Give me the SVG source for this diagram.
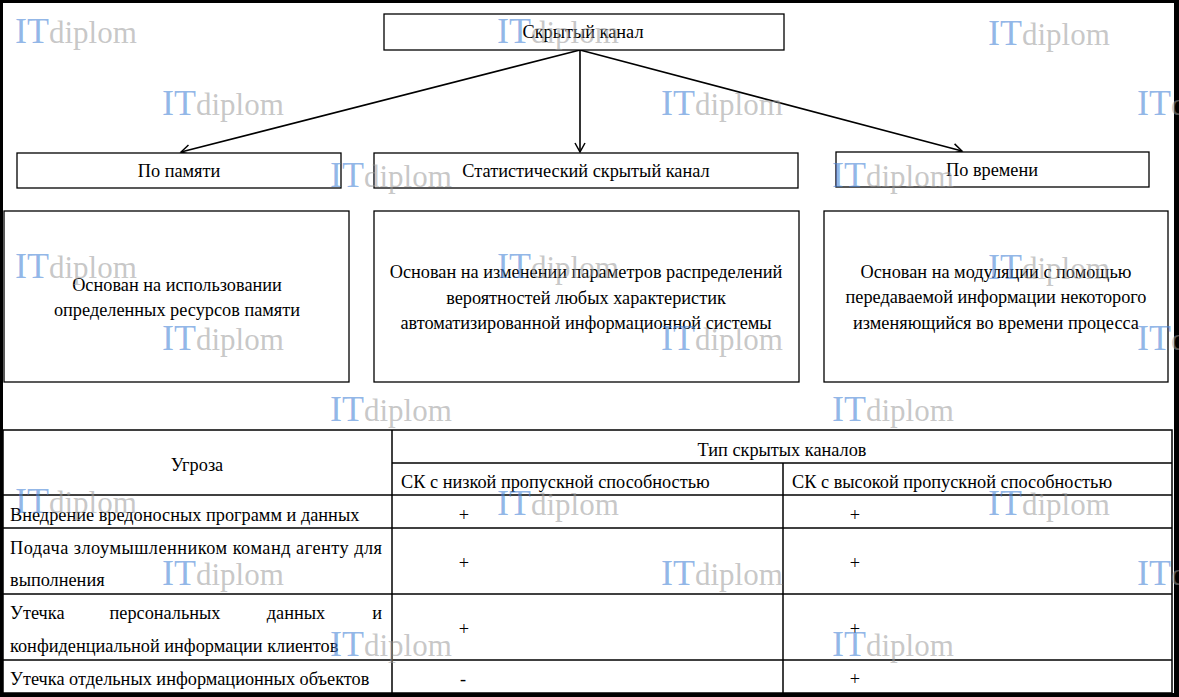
<svg xmlns="http://www.w3.org/2000/svg" width="1179" height="697" viewBox="0 0 1179 697">
<style>
.box{fill:#fff;stroke:#000;stroke-width:1.3}
.t{font-family:"Liberation Serif","Times New Roman",serif;font-size:18.3px;fill:#000}
.c{text-anchor:middle}
.e{text-anchor:end}
.ln{stroke:#000;stroke-width:1.6;fill:none}
.tl{stroke:#000;stroke-width:1.5;fill:none}
.wm{font-family:"Liberation Serif","Times New Roman",serif}
.wi{font-size:36px;fill:#4a86d8;fill-opacity:0.6}
.wd{font-size:31px;fill:#999;fill-opacity:0.55}
</style>
<defs>
<marker id="arr" markerWidth="12" markerHeight="12" refX="10" refY="6" orient="auto" markerUnits="userSpaceOnUse">
<path d="M1,1 L10,6 L1,11" fill="none" stroke="#000" stroke-width="1.5"/>
</marker>
</defs>
<rect width="1179" height="697" fill="#fff"/>

<g id="connectors">
<line class="ln" x1="580" y1="50" x2="181" y2="152" marker-end="url(#arr)"/>
<line class="ln" x1="580" y1="50" x2="580" y2="152" marker-end="url(#arr)"/>
<line class="ln" x1="580" y1="50" x2="962" y2="151" marker-end="url(#arr)"/>
</g>

<g id="n-root">
<rect class="box" x="384" y="14" width="400" height="36"/>
<text class="t c" x="583" y="38">Скрытый канал</text>
</g>
<g id="n-mem">
<rect class="box" x="17" y="153" width="324" height="35"/>
<text class="t c" x="179" y="177">По памяти</text>
</g>
<g id="n-stat">
<rect class="box" x="374" y="153" width="424" height="35"/>
<text class="t c" x="586" y="177">Статистический скрытый канал</text>
</g>
<g id="n-time">
<rect class="box" x="836" y="152" width="313" height="35"/>
<text class="t c" x="992" y="176">По времени</text>
</g>
<g id="d-mem">
<rect class="box" x="4" y="211" width="345" height="171"/>
<text class="t c" x="177" y="291">Основан на использовании</text>
<text class="t c" x="177" y="316">определенных ресурсов памяти</text>
</g>
<g id="d-stat">
<rect class="box" x="374" y="211" width="425" height="171"/>
<text class="t c" x="586" y="278">Основан на изменении параметров распределений</text>
<text class="t c" x="586" y="304">вероятностей любых характеристик</text>
<text class="t c" x="586" y="329">автоматизированной информационной системы</text>
</g>
<g id="d-time">
<rect class="box" x="824" y="211" width="344" height="171"/>
<text class="t c" x="996" y="278">Основан на модуляции с помощью</text>
<text class="t c" x="996" y="303">передаваемой информации некоторого</text>
<text class="t c" x="996" y="329">изменяющийся во времени процесса</text>
</g>

<g id="table">
<rect class="tl" x="3" y="430" width="1169" height="263"/>
<line class="tl" x1="392" y1="430" x2="392" y2="693"/>
<line class="tl" x1="392" y1="463" x2="1172" y2="463"/>
<line class="tl" x1="783" y1="463" x2="783" y2="693"/>
<line class="tl" x1="3" y1="495" x2="1172" y2="495"/>
<line class="tl" x1="3" y1="528" x2="1172" y2="528"/>
<line class="tl" x1="3" y1="594" x2="1172" y2="594"/>
<line class="tl" x1="3" y1="660" x2="1172" y2="660"/>
<text class="t c" x="197" y="471">Угроза</text>
<text class="t c" x="782" y="456">Тип скрытых каналов</text>
<text class="t" x="401" y="488">СК с низкой пропускной способностью</text>
<text class="t" x="792" y="488">СК с высокой пропускной способностью</text>
<text class="t" x="10" y="521">Внедрение вредоносных программ и данных</text>
<text class="t" x="10" y="554" textLength="372" lengthAdjust="spacing">Подача злоумышленником команд агенту для</text>
<text class="t" x="10" y="586">выполнения</text>
<text class="t" y="619"><tspan x="10">Утечка</tspan></text>
<text class="t c" x="165" y="619">персональных</text>
<text class="t c" x="296" y="619">данных</text>
<text class="t e" x="382" y="619">и</text>
<text class="t" x="10" y="652">конфиденциальной информации клиентов</text>
<text class="t" x="10" y="685">Утечка отдельных информационных объектов</text>
<text class="t c" x="464" y="521">+</text>
<text class="t c" x="464" y="569">+</text>
<text class="t c" x="464" y="635">+</text>
<text class="t c" x="463" y="685">-</text>
<text class="t c" x="855" y="521">+</text>
<text class="t c" x="855" y="569">+</text>
<text class="t c" x="855" y="635">+</text>
<text class="t c" x="855" y="685">+</text>
</g>

<g id="frame" fill="#000">
<rect x="0" y="0" width="1179" height="3"/>
<rect x="0" y="0" width="3" height="697"/>
<rect x="1174" y="0" width="5" height="697"/>
<rect x="0" y="693" width="1179" height="4"/>
</g>

<g id="watermarks" class="wm">
<text x="15" y="43"><tspan class="wi">IT</tspan><tspan class="wd">diplom</tspan></text>
<text x="497" y="43"><tspan class="wi">IT</tspan><tspan class="wd">diplom</tspan></text>
<text x="988" y="45"><tspan class="wi">IT</tspan><tspan class="wd">diplom</tspan></text>
<text x="162" y="115"><tspan class="wi">IT</tspan><tspan class="wd">diplom</tspan></text>
<text x="661" y="115"><tspan class="wi">IT</tspan><tspan class="wd">diplom</tspan></text>
<text x="1137" y="115"><tspan class="wi">IT</tspan><tspan class="wd">diplom</tspan></text>
<text x="330" y="187"><tspan class="wi">IT</tspan><tspan class="wd">diplom</tspan></text>
<text x="832" y="187"><tspan class="wi">IT</tspan><tspan class="wd">diplom</tspan></text>
<text x="15" y="278"><tspan class="wi">IT</tspan><tspan class="wd">diplom</tspan></text>
<text x="497" y="278"><tspan class="wi">IT</tspan><tspan class="wd">diplom</tspan></text>
<text x="988" y="279"><tspan class="wi">IT</tspan><tspan class="wd">diplom</tspan></text>
<text x="162" y="350"><tspan class="wi">IT</tspan><tspan class="wd">diplom</tspan></text>
<text x="661" y="350"><tspan class="wi">IT</tspan><tspan class="wd">diplom</tspan></text>
<text x="1137" y="350"><tspan class="wi">IT</tspan><tspan class="wd">diplom</tspan></text>
<text x="330" y="421"><tspan class="wi">IT</tspan><tspan class="wd">diplom</tspan></text>
<text x="832" y="421"><tspan class="wi">IT</tspan><tspan class="wd">diplom</tspan></text>
<text x="15" y="513"><tspan class="wi">IT</tspan><tspan class="wd">diplom</tspan></text>
<text x="497" y="515"><tspan class="wi">IT</tspan><tspan class="wd">diplom</tspan></text>
<text x="988" y="515"><tspan class="wi">IT</tspan><tspan class="wd">diplom</tspan></text>
<text x="162" y="585"><tspan class="wi">IT</tspan><tspan class="wd">diplom</tspan></text>
<text x="661" y="585"><tspan class="wi">IT</tspan><tspan class="wd">diplom</tspan></text>
<text x="1137" y="585"><tspan class="wi">IT</tspan><tspan class="wd">diplom</tspan></text>
<text x="330" y="656"><tspan class="wi">IT</tspan><tspan class="wd">diplom</tspan></text>
<text x="832" y="656"><tspan class="wi">IT</tspan><tspan class="wd">diplom</tspan></text>
</g>
</svg>
